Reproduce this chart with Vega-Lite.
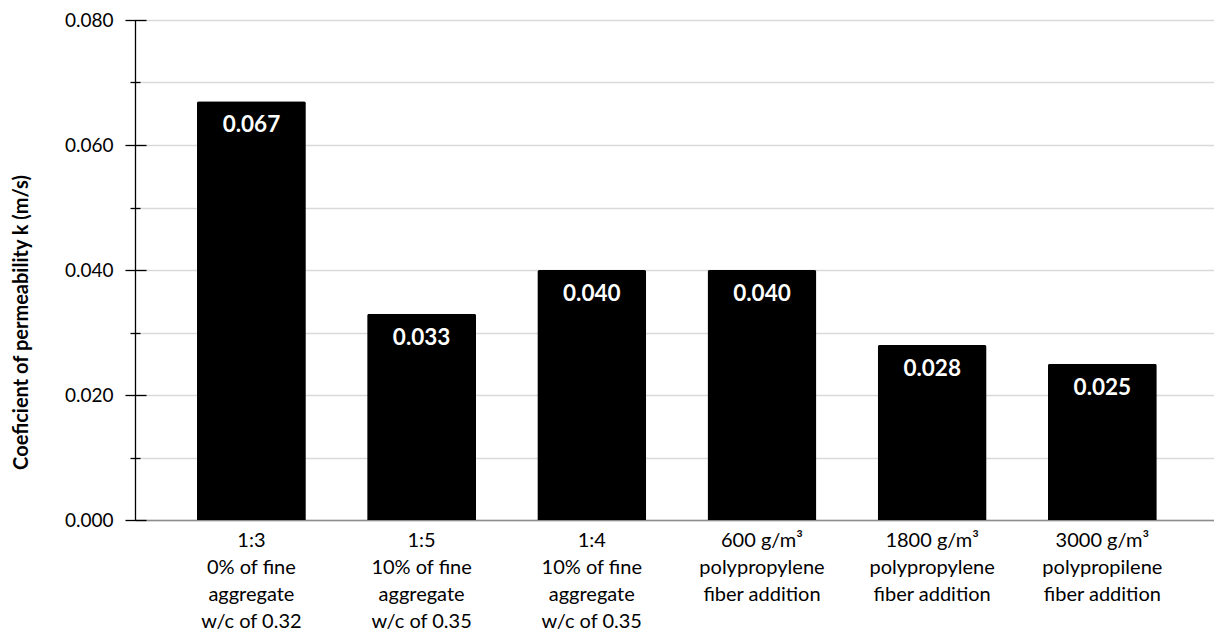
{
  "$schema": "https://vega.github.io/schema/vega-lite/v6.json",
  "width": 1079,
  "height": 500,
  "autosize": "none",
  "padding": {"left": 135, "top": 20, "right": 0, "bottom": 115},
  "background": "white",
  "config": {"view": {"stroke": null}, "font": "Lato"},
  "data": {
    "values": [
      {"cat": "1:3\n0% of fine\naggregate\nw/c of 0.32", "k": 0.067},
      {"cat": "1:5\n10% of fine\naggregate\nw/c of 0.35", "k": 0.033},
      {"cat": "1:4\n10% of fine \naggregate\nw/c of 0.35", "k": 0.040},
      {"cat": "600 g/m³\npolypropylene\nfiber addition", "k": 0.040},
      {"cat": "1800 g/m³\npolypropylene\nfiber addition", "k": 0.028},
      {"cat": "3000 g/m³\npolypropilene\nfiber addition", "k": 0.025}
    ]
  },
  "encoding": {
    "x": {
      "field": "cat",
      "type": "nominal",
      "sort": null,
      "scale": {"paddingInner": 0.36, "paddingOuter": 0.35, "align": 0.52},
      "axis": {
        "title": null,
        "labelAngle": 0,
        "ticks": false,
        "domainColor": "#8c8c8c",
        "domainWidth": 1.5,
        "labelExpr": "split(datum.label, '\\n')",
        "labelFont": "Lato",
        "labelFontSize": 20,
        "labelColor": "#000000",
        "labelLineHeight": 27,
        "labelPadding": 10,
        "labelLimit": 0,
        "labelBaseline": "top"
      }
    }
  },
  "layer": [
    {
      "mark": {"type": "bar", "color": "#000000", "cornerRadiusTopLeft": 2, "cornerRadiusTopRight": 2},
      "encoding": {
        "y": {
          "field": "k",
          "type": "quantitative",
          "scale": {"domain": [0, 0.08], "nice": false},
          "axis": {
            "orient": "left",
            "values": [0, 0.01, 0.02, 0.03, 0.04, 0.05, 0.06, 0.07, 0.08],
            "labelExpr": "round(datum.value * 100) % 2 == 0 ? format(datum.value, '.3f') : ''",
            "domainColor": "#000000",
            "domainWidth": 1.3,
            "ticks": false,
            "labelPadding": 22,
            "labelFont": "Lato",
            "labelFontSize": 19,
            "labelColor": "#000000",
            "grid": true,
            "gridColor": "#d9d9d9",
            "gridWidth": 1.3,
            "title": "Coeficient of permeability k (m/s)",
            "titleFont": "Lato",
            "titleFontSize": 20,
            "titleFontWeight": "bold",
            "titleColor": "#000000",
            "titlePadding": 33,
            "titleY": 302
          }
        }
      }
    },
    {
      "mark": {"type": "text", "color": "white", "font": "Lato", "fontSize": 22.5, "fontWeight": "bold", "baseline": "alphabetic", "dy": 31},
      "encoding": {
        "text": {"field": "k", "type": "quantitative", "format": ".3f"},
        "y": {
          "field": "k",
          "type": "quantitative",
          "scale": {"domain": [0, 0.08], "nice": false},
          "axis": {
            "orient": "left",
            "values": [0, 0.02, 0.04, 0.06, 0.08],
            "domain": false,
            "labels": false,
            "grid": false,
            "ticks": true,
            "tickSize": 21,
            "tickWidth": 1.3,
            "tickColor": "#000000",
            "offset": -11,
            "title": null
          }
        }
      }
    },
    {
      "mark": {"type": "bar", "opacity": 0},
      "encoding": {
        "y": {
          "field": "k",
          "type": "quantitative",
          "scale": {"domain": [0, 0.08], "nice": false},
          "axis": {
            "orient": "left",
            "values": [0.01, 0.03, 0.05, 0.07],
            "domain": false,
            "labels": false,
            "grid": false,
            "ticks": true,
            "tickSize": 10,
            "tickWidth": 1.3,
            "tickColor": "#000000",
            "offset": -5,
            "title": null
          }
        }
      }
    }
  ],
  "resolve": {"axis": {"y": "independent"}}
}
